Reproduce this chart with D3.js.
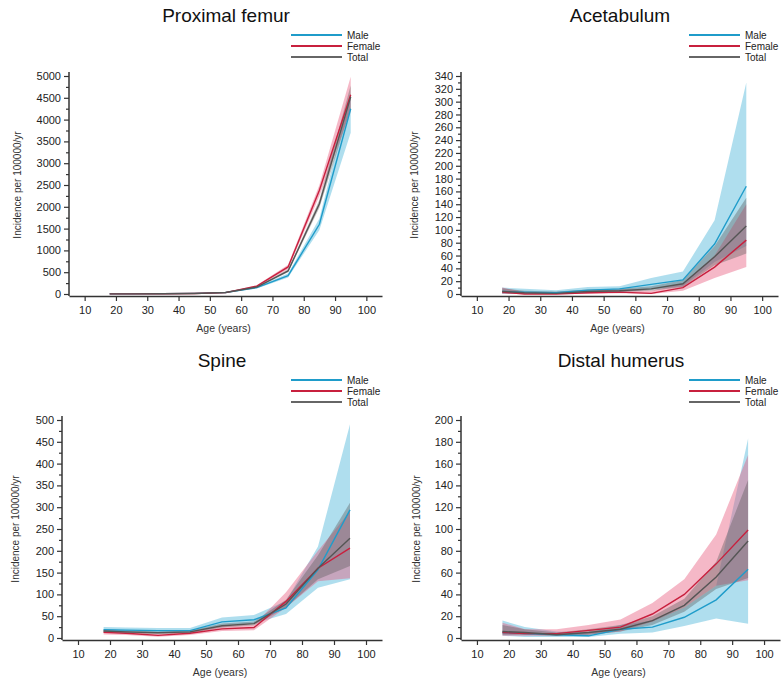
<!DOCTYPE html>
<html><head><meta charset="utf-8">
<script src="https://cdn.jsdelivr.net/npm/d3@7"></script>
<style>body{margin:0;background:#fff}svg{display:block;font-family:"Liberation Sans",Arial,sans-serif}</style>
</head><body><svg id="c" width="781" height="681"></svg>
<script>
const ages = [18, 25, 35, 45, 55, 65, 75, 85, 95];
const seriesNames = ["Male", "Female", "Total"];

// Proximal femur
const femurMale     = [3, 4, 8, 15, 35, 145, 420, 1600, 4250];
const femurMaleLo   = [1, 2, 5, 10, 28, 125, 380, 1470, 3700];
const femurMaleHi   = [6, 7, 12, 20, 43, 165, 470, 1730, 4600];
const femurFemale   = [2, 3, 5, 12, 32, 180, 620, 2380, 4570];
const femurFemaleLo = [0, 1, 3, 8, 25, 160, 570, 2250, 4200];
const femurFemaleHi = [5, 6, 8, 16, 39, 200, 670, 2500, 4980];
const femurTotal    = [3, 3, 6, 13, 34, 160, 530, 2070, 4520];
const femurTotalLo  = [1, 2, 4, 10, 29, 148, 500, 1980, 4250];
const femurTotalHi  = [5, 5, 9, 17, 39, 172, 560, 2160, 4780];

// Acetabulum
const acetMale     = [4, 3, 2, 6, 8, 15, 22, 78, 168];
const acetMaleLo   = [0, 0, 0, 2, 3, 7, 12, 50, 75];
const acetMaleHi   = [10, 8, 6, 11, 12, 25, 35, 115, 330];
const acetFemale   = [3, 0, 0, 2, 3, 1, 10, 42, 84];
const acetFemaleLo = [0, 0, 0, 0, 1, 0, 5, 25, 42];
const acetFemaleHi = [10, 3, 3, 5, 7, 5, 16, 60, 140];
const acetTotal    = [4, 2, 1, 4, 5, 8, 16, 58, 106];
const acetTotalLo  = [1, 0, 0, 2, 3, 5, 11, 45, 63];
const acetTotalHi  = [9, 5, 4, 7, 8, 12, 22, 75, 150];

// Spine
const spineMale     = [19, 18, 17, 17, 37, 42, 69, 157, 294];
const spineMaleLo   = [13, 12, 12, 12, 30, 33, 55, 115, 135];
const spineMaleHi   = [25, 24, 23, 23, 47, 53, 85, 210, 490];
const spineFemale   = [13, 11, 6, 11, 21, 24, 84, 160, 206];
const spineFemaleLo = [8, 7, 3, 7, 16, 18, 70, 130, 137];
const spineFemaleHi = [17, 15, 10, 14, 28, 30, 105, 200, 290];
const spineTotal    = [16, 14, 12, 14, 28, 33, 78, 160, 229];
const spineTotalLo  = [12, 11, 9, 11, 24, 29, 70, 135, 165];
const spineTotalHi  = [20, 18, 15, 17, 33, 38, 88, 190, 310];

// Distal humerus
const humMale     = [5, 4, 3, 2, 8, 10, 19, 35, 63];
const humMaleLo   = [2, 1, 1, 1, 4, 5, 11, 18, 13];
const humMaleHi   = [16, 10, 6, 5, 12, 16, 28, 48, 183];
const humFemale   = [5, 4, 4, 7, 10, 22, 40, 68, 99];
const humFemaleLo = [2, 2, 2, 3, 6, 15, 28, 48, 53];
const humFemaleHi = [14, 8, 8, 12, 17, 32, 54, 95, 168];
const humTotal    = [6, 5, 3, 5, 8, 16, 30, 56, 89];
const humTotalLo  = [3, 3, 2, 3, 6, 12, 24, 45, 55];
const humTotalHi  = [12, 8, 5, 8, 12, 20, 36, 70, 145];

const xTicks = [10, 20, 30, 40, 50, 60, 70, 80, 90, 100];

const panels = [
  {title: "Proximal femur", ymax: 5000, step: 500,
   s: [[femurMale, femurMaleLo, femurMaleHi], [femurFemale, femurFemaleLo, femurFemaleHi], [femurTotal, femurTotalLo, femurTotalHi]],
   ax: 69, ax2: 382, top: 76, zero: 294, titleX: 226, titleY: 22, legX: 291, labX: 18},
  {title: "Acetabulum", ymax: 340, step: 20,
   s: [[acetMale, acetMaleLo, acetMaleHi], [acetFemale, acetFemaleLo, acetFemaleHi], [acetTotal, acetTotalLo, acetTotalHi]],
   ax: 461, ax2: 778, top: 76, zero: 294, titleX: 620, titleY: 22, legX: 689, labX: 415},
  {title: "Spine", ymax: 500, step: 50,
   s: [[spineMale, spineMaleLo, spineMaleHi], [spineFemale, spineFemaleLo, spineFemaleHi], [spineTotal, spineTotalLo, spineTotalHi]],
   ax: 62, ax2: 382, top: 420, zero: 638, titleX: 222, titleY: 367, legX: 291, labX: 16},
  {title: "Distal humerus", ymax: 200, step: 20,
   s: [[humMale, humMaleLo, humMaleHi], [humFemale, humFemaleLo, humFemaleHi], [humTotal, humTotalLo, humTotalHi]],
   ax: 461, ax2: 780, top: 420, zero: 638, titleX: 621, titleY: 367, legX: 689, labX: 417}
];

const lineColors = ["#1f9cca", "#c8203e", "#555555"];
const bandColors = ["#4db5da", "#e8557a", "#5a5a5a"];
const bandOpac = [0.45, 0.42, 0.38];

const svg = d3.select("#c");

panels.forEach(p => {
  const g = svg.append("g");
  const x = d3.scaleLinear().domain([5, 105]).range([p.ax, p.ax2]);
  const y = d3.scaleLinear().domain([0, p.ymax]).range([p.zero, p.top]);

  p.s.forEach((ser, i) => {
    const data = ages.map((a, k) => ({a, lo: ser[1][k], hi: ser[2][k]}));
    g.append("path").datum(data)
      .attr("d", d3.area().x(d => x(d.a)).y0(d => y(d.lo)).y1(d => y(d.hi)))
      .attr("fill", bandColors[i]).attr("fill-opacity", bandOpac[i]).attr("stroke", "none");
  });
  p.s.forEach((ser, i) => {
    const data = ages.map((a, k) => ({a, v: ser[0][k]}));
    g.append("path").datum(data)
      .attr("d", d3.line().x(d => x(d.a)).y(d => y(d.v)))
      .attr("fill", "none").attr("stroke", lineColors[i]).attr("stroke-width", 1.4);
  });

  const yTicks = d3.range(0, p.ymax + 1, p.step);
  const minor = d3.range(p.step / 2, p.ymax, p.step);
  const yA = g.append("g").attr("transform", `translate(${p.ax},0)`)
    .call(d3.axisLeft(y).tickValues(yTicks).tickFormat(d3.format("d")).tickSize(5).tickPadding(3).tickSizeOuter(0));
  const yM = g.append("g").attr("transform", `translate(${p.ax},0)`)
    .call(d3.axisLeft(y).tickValues(minor).tickSize(3).tickFormat("").tickSizeOuter(0));
  yM.select(".domain").remove();
  const xA = g.append("g").attr("transform", `translate(0,${p.zero + 2})`)
    .call(d3.axisBottom(x).tickValues(xTicks).tickFormat(d3.format("d")).tickSize(5).tickPadding(5).tickSizeOuter(0));
  [yA, yM, xA].forEach(a => {
    a.selectAll(".domain").attr("stroke", "#333").attr("stroke-width", 1.5);
    a.selectAll(".tick line").attr("stroke", "#333").attr("stroke-width", 1.2);
    a.selectAll("text").attr("font-size", 11).attr("fill", "#222")
      .attr("font-family", "'Liberation Sans', Arial, sans-serif");
  });
  yA.select(".domain").attr("d", `M0,${p.zero + 2}V${p.top - 4}`);

  g.append("text").attr("x", p.titleX).attr("y", p.titleY).attr("text-anchor", "middle")
    .attr("font-size", 19).attr("fill", "#111").text(p.title);
  g.append("text").attr("x", (p.ax + p.ax2) / 2 - 2).attr("y", p.zero + 38).attr("text-anchor", "middle")
    .attr("font-size", 10.5).attr("fill", "#333").text("Age (years)");
  const ly = (p.top + p.zero) / 2;
  g.append("text").attr("transform", `translate(${p.labX + 3},${ly}) rotate(-90)`)
    .attr("text-anchor", "middle").attr("font-size", 10).attr("fill", "#333")
    .text("Incidence per 100000/yr");

  seriesNames.forEach((n, i) => {
    const yy = p.titleY + 13 + i * 11;
    g.append("line").attr("x1", p.legX).attr("x2", p.legX + 51).attr("y1", yy).attr("y2", yy)
      .attr("stroke", i === 2 ? "#666" : lineColors[i]).attr("stroke-width", 1.8);
    g.append("text").attr("x", p.legX + 56).attr("y", yy + 3.5).attr("font-size", 10).attr("fill", "#222").text(n);
  });
});
</script></body></html>
